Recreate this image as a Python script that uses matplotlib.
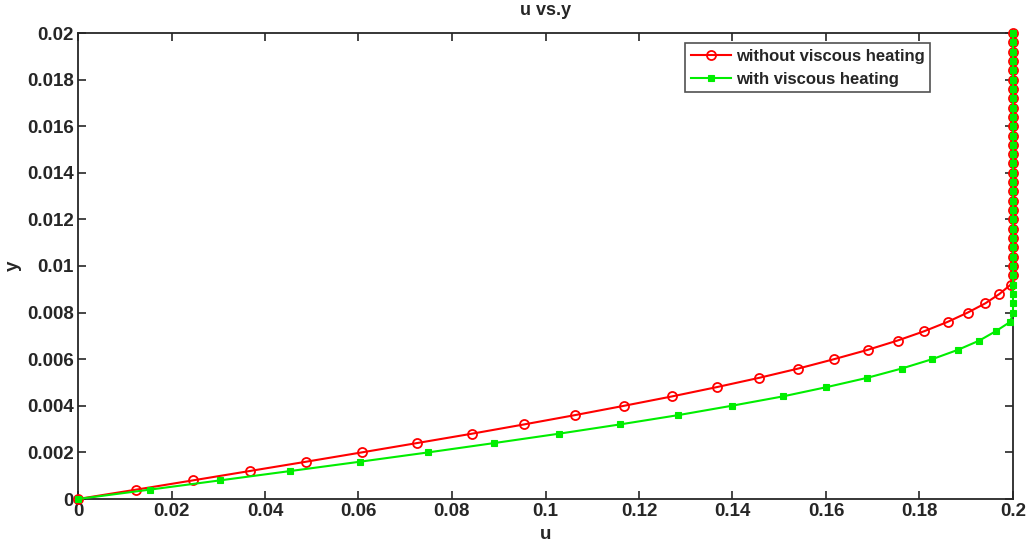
import numpy as np
import matplotlib.pyplot as plt

plt.rcParams['font.family'] = ['Liberation Sans', 'DejaVu Sans']
plt.rcParams['font.weight'] = 'bold'

# y positions (step 0.0004 from 0 to 0.02)
y_vals = [round(0.0004 * i, 4) for i in range(51)]

# velocity without viscous heating
u_without = [0.0, 0.0124, 0.0246, 0.0367, 0.0488, 0.0607, 0.0725, 0.0842, 0.0954,
             0.1063, 0.1168, 0.1270, 0.1366, 0.1457, 0.1541, 0.1617, 0.1689,
             0.1753, 0.1810, 0.1860, 0.1903, 0.1941, 0.1971, 0.1995]
u_without = u_without + [0.2] * (51 - len(u_without))

# velocity with viscous heating
u_with = [0.0, 0.0153, 0.0304, 0.0454, 0.0603, 0.0749, 0.0890, 0.1028, 0.1159,
          0.1284, 0.1398, 0.1507, 0.1601, 0.1688, 0.1762, 0.1827, 0.1882,
          0.1928, 0.1963, 0.1994]
u_with = u_with + [0.2] * (51 - len(u_with))

x_ticks = [0, 0.02, 0.04, 0.06, 0.08, 0.1, 0.12, 0.14, 0.16, 0.18, 0.2]
x_labels = ['0', '0.02', '0.04', '0.06', '0.08', '0.1', '0.12', '0.14', '0.16', '0.18', '0.2']
y_ticks = [0, 0.002, 0.004, 0.006, 0.008, 0.01, 0.012, 0.014, 0.016, 0.018, 0.02]
y_labels = ['0', '0.002', '0.004', '0.006', '0.008', '0.01', '0.012', '0.014', '0.016', '0.018', '0.02']

fig = plt.figure(figsize=(10.27, 5.48), dpi=100)
ax = fig.add_axes([78 / 1027, 1 - 499 / 548, (1013 - 78) / 1027, (499 - 33) / 548])

ax.plot(u_without, y_vals, '-o', color='#ff0000', lw=1.5, ms=6.5, mfc='none',
        mew=1.3, label='without viscous heating', clip_on=False, zorder=3)
ax.plot(u_with, y_vals, '-s', color='#00ee00', lw=1.5, ms=4.5, mfc='#00ee00',
        mew=0.8, label='with viscous heating', clip_on=False, zorder=4)

ax.set_xlim(0, 0.2)
ax.set_ylim(0, 0.02)
ax.set_xticks(x_ticks)
ax.set_xticklabels(x_labels)
ax.set_yticks(y_ticks)
ax.set_yticklabels(y_labels)

ax.tick_params(direction='in', top=True, right=True, length=6, width=1.2,
               labelsize=13.5, colors='#262626', pad=3)
for sp in ax.spines.values():
    sp.set_linewidth(1.3)
    sp.set_color('#262626')

ax.set_xlabel('u', fontsize=13.5, fontweight='bold', color='#262626', labelpad=4)
ax.set_ylabel('y', fontsize=13.5, fontweight='bold', color='#262626', labelpad=4)
ax.set_title('u vs.y', fontsize=13, fontweight='bold', color='#262626', pad=13)

leg = ax.legend(loc='upper right', bbox_to_anchor=(0.915, 0.985), fontsize=12,
                frameon=True, fancybox=False, edgecolor='#262626',
                handlelength=2.4, borderpad=0.35, labelspacing=0.45,
                handletextpad=0.3, borderaxespad=0.2)
leg.get_frame().set_linewidth(1.2)
for t in leg.get_texts():
    t.set_color('#262626')

fig.savefig('out.png', dpi=100)
